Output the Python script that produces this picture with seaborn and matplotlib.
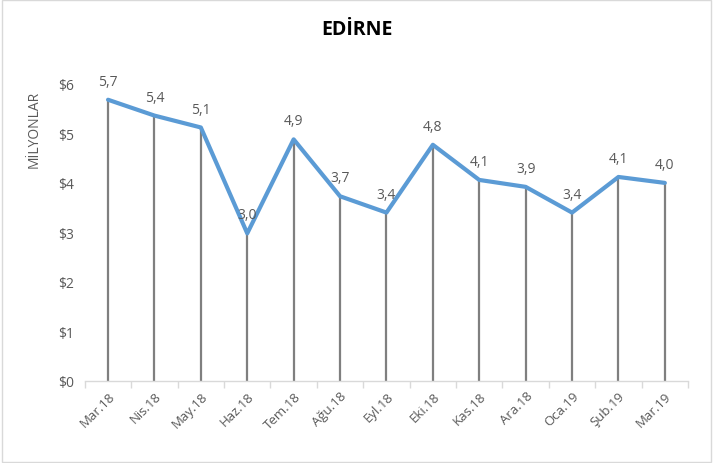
import numpy as np
import pandas as pd
import matplotlib
matplotlib.use('Agg')
import matplotlib.pyplot as plt
import seaborn as sns

aylar = ['Mar.18', 'Nis.18', 'May.18', 'Haz.18', 'Tem.18', 'Ağu.18', 'Eyl.18',
         'Eki.18', 'Kas.18', 'Ara.18', 'Oca.19', 'Şub.19', 'Mar.19']
degerler = [5.68, 5.36, 5.12, 2.98, 4.88, 3.73, 3.40, 4.77, 4.06, 3.92, 3.40, 4.12, 4.00]
y_ticks = [0, 1, 2, 3, 4, 5, 6]

df = pd.DataFrame({'ay': aylar, 'deger': degerler})

sns.set_theme(style='white')
plt.rcParams['font.family'] = ['Open Sans', 'DejaVu Sans']

fig = plt.figure(figsize=(7.13, 4.64), dpi=100)
ax = fig.add_axes([0.119, 0.177, 0.846, 0.64])

pos = np.arange(len(aylar))
# drop lines
ax.vlines(pos, 0, df['deger'], color='#7f7f7f', lw=1.6, zorder=1)
sns.lineplot(data=df, x=pos, y='deger', ax=ax, color='#5b9bd5', lw=3, zorder=2,
             sort=False)

for x, v in zip(pos, degerler):
    ax.text(x, v + 0.22, f'{v:.1f}'.replace('.', ','), ha='center', va='bottom',
            fontsize=10, color='#595959')

ax.set_xlim(-0.5, len(aylar) - 0.5)
ax.set_ylim(0, 6)
ax.set_yticks(y_ticks)
ax.set_yticklabels([f'${t}' for t in y_ticks], fontsize=10, color='#595959')
ax.set_xticks(pos)
ax.set_xticklabels(aylar, rotation=45, ha='right', rotation_mode='anchor',
                   fontsize=9.5, color='#595959')
ax.set_xticks(np.arange(-0.5, len(aylar)), minor=True)
ax.tick_params(axis='x', which='major', length=0, pad=6)
ax.tick_params(axis='x', which='minor', length=5, color='#d9d9d9', width=1, bottom=True)
ax.tick_params(axis='y', length=0, pad=8)
ax.set_xlabel('')
ax.set_ylabel('MİLYONLAR', fontsize=10, color='#595959')
ax.yaxis.set_label_coords(-0.071, 0.85)

for s in ['top', 'right', 'left']:
    ax.spines[s].set_visible(False)
ax.spines['bottom'].set_color('#d9d9d9')
ax.spines['bottom'].set_linewidth(1)

fig.text(0.5, 0.935, 'EDİRNE', ha='center', va='center', fontsize=14,
         fontweight='bold', color='black')

fig.patches.append(plt.Rectangle((0.003, 0.003), 0.994, 0.994, transform=fig.transFigure,
                                 fill=False, edgecolor='#d9d9d9', lw=1))

fig.savefig('out.png', dpi=100)
